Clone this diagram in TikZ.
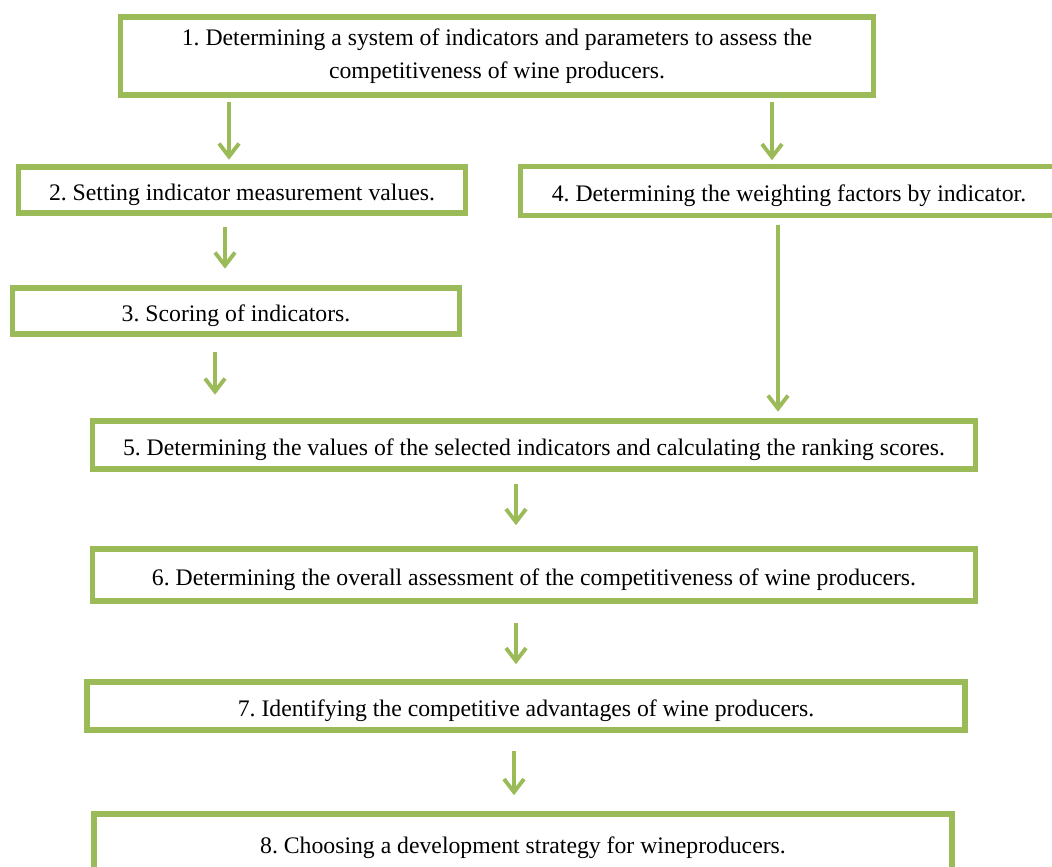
\documentclass[tikz,border=0pt]{standalone}
\usepackage{fontspec}
\setmainfont{Liberation Serif}
\usetikzlibrary{arrows.meta, positioning, calc}
\definecolor{leafgreen}{HTML}{9BBB59}
\frenchspacing

\begin{document}
\begin{tikzpicture}[x=0.02cm, y=-0.02cm,
    font=\fontsize{13.5}{18.5}\selectfont,
    stage/.style={draw=leafgreen, line width=3.2pt, fill=white,
                  align=center, inner sep=0pt,
                  execute at begin node={\rule{0pt}{14.5pt}}},
    flow/.style={leafgreen, line width=2.2pt,
                 -{Straight Barb[length=0.26cm, width=0.4cm]}}]
  \useasboundingbox (0,0) rectangle (1052,866);
  \clip (0,0) rectangle (1052,866);
  % stages
  \node[stage, minimum width=15.06cm, minimum height=1.56cm] (b1) at (497,56)
    {1. Determining a system of indicators and parameters to assess the\\
     competitiveness of wine producers.};
  \node[stage, minimum width=8.94cm, minimum height=0.92cm] (b2) at (242,190)
    {2. Setting indicator measurement values.};
  \node[stage, minimum width=10.74cm, minimum height=0.98cm] (b4) at (789,191)
    {4. Determining the weighting factors by indicator.};
  \node[stage, minimum width=8.94cm, minimum height=0.92cm] (b3) at (236,311)
    {3. Scoring of indicators.};
  \node[stage, minimum width=17.66cm, minimum height=0.96cm] (b5) at (534,445)
    {5. Determining the values of the selected indicators and calculating the ranking scores.};
  \node[stage, minimum width=17.66cm, minimum height=1.04cm] (b6) at (534,575)
    {6. Determining the overall assessment of the competitiveness of wine producers.};
  \node[stage, minimum width=17.56cm, minimum height=0.96cm] (b7) at (526,706)
    {7. Identifying the competitive advantages of wine producers.};
  \node[stage, minimum width=17.16cm, minimum height=1.16cm] (b8) at (523,843)
    {8. Choosing a development strategy for wineproducers.};
  % connectors
  \draw[flow, shorten <=0.09cm, shorten >=0.09cm]
    (b1.south -| 229,0) -- (b2.north -| 229,0);
  \draw[flow, shorten <=0.09cm, shorten >=0.07cm]
    (b1.south -| 772,0) -- (b4.north -| 772,0);
  \draw[flow, shorten <=0.23cm, shorten >=0.33cm]
    (b2.south -| 225,0) -- (b3.north -| 225,0);
  \draw[flow, shorten <=0.3cm, shorten >=0.47cm]
    (b3.south -| 215,0) -- (b5.north -| 215,0);
  \draw[flow, shorten <=0.13cm, shorten >=0.13cm]
    (b4.south -| 778,0) -- (b5.north -| 778,0);
  \draw[flow, shorten <=0.24cm, shorten >=0.42cm]
    (b5.south -| 516,0) -- (b6.north -| 516,0);
  \draw[flow, shorten <=0.38cm, shorten >=0.3cm]
    (b6.south -| 516,0) -- (b7.north -| 516,0);
  \draw[flow, shorten <=0.36cm, shorten >=0.32cm]
    (b7.south -| 514,0) -- (b8.north -| 514,0);
\end{tikzpicture}
\end{document}
